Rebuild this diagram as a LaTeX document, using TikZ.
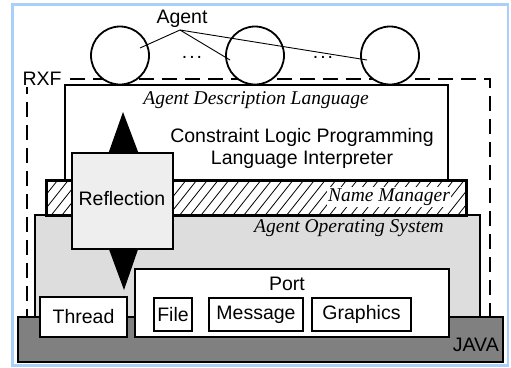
\documentclass[tikz,border=0pt]{standalone}
\usepackage{fontspec}
\setmainfont{Liberation Sans}
\newfontfamily\tms{Liberation Serif}
\begin{document}
\begin{tikzpicture}[x=1pt,y=-1pt,
  every node/.style={font=\fontsize{19.5}{22}\selectfont},
  blk/.style={draw=black, line width=1.8pt, inner sep=0pt, rectangle},
  lbl/.style={inner sep=0pt},
  ital/.style={inner sep=0pt, font=\fontsize{19.5}{22}\selectfont\tms\itshape},
  agentc/.style={draw=black, line width=1.8pt, fill=white, circle, minimum size=58pt, inner sep=0pt},
  tri/.style={fill=black, draw=none}]
\useasboundingbox (0,0) rectangle (511,367);
% outer frame
\draw[draw={rgb,255:red,168;green,208;blue,250}, line width=2.5pt, fill=white] (12.5,4.5) rectangle (508,365.5);

% RXF boundary
\draw[line width=2.2pt, dash pattern=on 15pt off 8pt] (27,79) rectangle (490,335);
\node[lbl, fill=white, inner sep=1pt] (rxf) at (42,79) {RXF};

% agents
\node[agentc] (a1) at (120,55.5) {};
\node[agentc] (a2) at (255,55.5) {};
\node[agentc] (a3) at (390,55.5) {};
\node[lbl] (dots1) at (192,57) {.\kern2pt.\kern2pt.};
\node[lbl] (dots2) at (323,57) {.\kern2pt.\kern2pt.};
\node[lbl] (agent) at (182,19) {Agent};
\coordinate (ap) at (180,30);
\coordinate (p1) at (140,48);
\coordinate (p2) at (230,60);
\coordinate (p3) at (367,60);
\draw[line width=0.9pt] (p1) -- (ap) -- (p2);
\draw[line width=0.9pt] (ap) -- (p3);

% agent description language layer
\node[blk, fill=white, minimum width=383pt, minimum height=100pt] (adl) at (256.5,135) {};
\node[ital] (adlt) at (256,100) {Agent Description Language};
\node[lbl, align=center] (clp) at (302,148) {Constraint Logic Programming\\Language Interpreter};

% reflection arrow, upper head
\fill (123,112) -- (138.5,153) -- (108.5,153) -- cycle;

% agent operating system
\node[blk, fill={rgb,255:red,221;green,221;blue,221}, minimum width=445pt, minimum height=115pt] (aos) at (257.5,272.5) {};
\node[ital] (aost) at (349,228) {Agent Operating System};

% name manager, hatched
\node[blk, fill=white, minimum width=419pt, minimum height=34pt] (nm) at (256.5,198) {};
\begin{scope}
  \clip (47,181) rectangle (466,215);
  \foreach \x in {30,40.7,...,480} \draw[line width=0.8pt] (\x,215) -- ++(27,-34);
\end{scope}
\draw[line width=1.8pt] (nm.north west) rectangle (nm.south east);
\node[ital, fill=white, inner sep=1.5pt] (nmt) at (389,197) {Name Manager};

% reflection arrow, lower head
\fill (108.5,248) -- (138.5,248) -- (124,290) -- cycle;
\node[blk, fill={rgb,255:red,238;green,238;blue,238}, minimum width=101pt, minimum height=96pt] (refl) at (122.5,201) {};
\node[lbl] (reflt) at (122,199) {Reflection};

% java base
\node[blk, fill={rgb,255:red,128;green,128;blue,128}, minimum width=485pt, minimum height=45pt] (java) at (260.5,339.5) {};
\node[lbl, anchor=east] (javat) at (499,345) {JAVA};

% thread and port
\node[blk, fill=white, minimum width=87pt, minimum height=40pt] (thread) at (83.5,317) {Thread};
\node[blk, fill=white, minimum width=314pt, minimum height=68pt] (port) at (292,303) {};
\node[lbl] (portt) at (287,284) {Port};
\node[blk, fill=white, minimum width=38pt, minimum height=33pt] (file) at (173,314.5) {File};
\node[blk, fill=white, minimum width=94pt, minimum height=33pt] (msg) at (256,314.5) {Message};
\node[blk, fill=white, minimum width=99pt, minimum height=33pt] (gfx) at (361.5,314.5) {Graphics};
\end{tikzpicture}
\end{document}
